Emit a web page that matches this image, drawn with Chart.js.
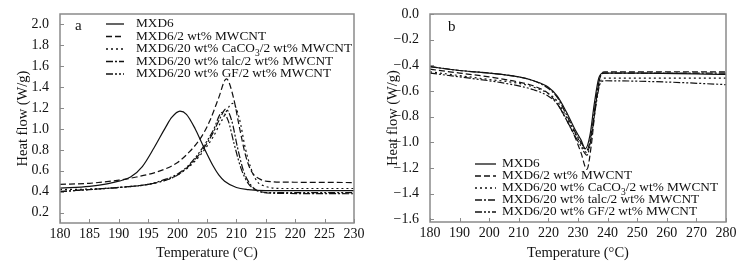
<!DOCTYPE html>
<html>
<head>
<meta charset="utf-8">
<script src="https://cdn.jsdelivr.net/npm/chart.js@4"></script>
<style>
  body { margin: 0; background: #fff; }
  .wrap { position: absolute; top: 0; height: 263px; }
</style>
</head>
<body>
<div class="wrap" style="left:0;width:370px"><canvas id="chartA"></canvas></div>
<div class="wrap" style="left:370px;width:371px"><canvas id="chartB"></canvas></div>
<script>
// Series names
const seriesNames = [
  "MXD6",
  "MXD6/2 wt% MWCNT",
  "MXD6/20 wt% CaCO3/2 wt% MWCNT",
  "MXD6/20 wt% talc/2 wt% MWCNT",
  "MXD6/20 wt% GF/2 wt% MWCNT"
];
const dashes = [[], [6, 3], [2, 3], [7, 2, 2, 2], [7, 2, 2, 2, 2, 2]];

// Panel a: crystallization (temperature, heat flow)
const a_t_mxd6 = [180, 185, 188, 190, 192, 194, 196, 198, 199, 200.4, 201.5, 203, 204, 205, 206, 207, 208, 210, 212, 215, 230];
const a_y_mxd6 = [0.434, 0.45, 0.475, 0.50, 0.54, 0.64, 0.82, 1.02, 1.11, 1.17, 1.14, 1.00, 0.88, 0.76, 0.65, 0.56, 0.50, 0.44, 0.42, 0.41, 0.41];
const a_t_mwcnt = [180, 185, 190, 193, 196, 198, 200, 202, 204, 205.5, 207, 208.3, 209.5, 210.5, 211.5, 212.5, 214, 216, 220, 230];
const a_y_mwcnt = [0.47, 0.48, 0.51, 0.54, 0.58, 0.62, 0.68, 0.78, 0.92, 1.08, 1.30, 1.48, 1.30, 1.02, 0.76, 0.60, 0.52, 0.495, 0.49, 0.487];
const a_t_caco3 = [180, 185, 190, 195, 198, 200, 202, 204, 206, 207.5, 209.4, 210.5, 211.5, 212.5, 213.5, 215, 218, 230];
const a_y_caco3 = [0.42, 0.425, 0.44, 0.47, 0.51, 0.56, 0.64, 0.76, 0.92, 1.08, 1.245, 1.10, 0.82, 0.62, 0.50, 0.45, 0.43, 0.43];
const a_t_talc = [180, 185, 190, 195, 198, 200, 202, 204, 206, 207.2, 208.2, 209.2, 210.2, 211.2, 212.5, 214, 216, 230];
const a_y_talc = [0.40, 0.42, 0.44, 0.47, 0.51, 0.56, 0.65, 0.78, 0.96, 1.10, 1.19, 1.08, 0.82, 0.60, 0.46, 0.40, 0.385, 0.38];
const a_t_gf = [180, 185, 190, 195, 198, 200, 202, 204, 206, 207.6, 208.6, 209.6, 210.8, 212, 213.5, 216, 230];
const a_y_gf = [0.40, 0.42, 0.44, 0.47, 0.52, 0.57, 0.66, 0.80, 0.98, 1.16, 1.08, 0.86, 0.62, 0.48, 0.41, 0.39, 0.39];

// Panel b: melting (temperature, heat flow)
const b_t_mxd6 = [180, 190, 200, 210, 215, 220, 223, 226, 229, 231, 232.5, 234, 235.5, 237, 238.5, 250, 280];
const b_y_mxd6 = [-0.41, -0.44, -0.46, -0.49, -0.52, -0.57, -0.64, -0.76, -0.90, -0.98, -1.05, -0.95, -0.70, -0.50, -0.46, -0.46, -0.47];
const b_t_mwcnt = [180, 190, 200, 210, 215, 220, 223, 226, 229, 231, 233, 234.5, 236, 237.5, 239, 280];
const b_y_mwcnt = [-0.43, -0.46, -0.49, -0.53, -0.56, -0.62, -0.70, -0.82, -0.96, -1.08, -1.21, -1.02, -0.70, -0.49, -0.45, -0.45];
const b_t_caco3 = [180, 190, 200, 210, 215, 220, 223, 226, 229, 231, 233, 234.5, 236, 237.5, 239, 280];
const b_y_caco3 = [-0.45, -0.48, -0.51, -0.54, -0.57, -0.62, -0.68, -0.80, -0.93, -1.01, -1.08, -0.95, -0.70, -0.53, -0.50, -0.50];
const b_t_talc = [180, 190, 200, 210, 215, 220, 223, 226, 229, 231, 233, 234.5, 236, 237.5, 239, 280];
const b_y_talc = [-0.41, -0.44, -0.46, -0.49, -0.52, -0.58, -0.65, -0.78, -0.92, -1.00, -1.06, -0.93, -0.68, -0.49, -0.46, -0.46];
const b_t_gf = [180, 190, 200, 210, 215, 220, 223, 226, 229, 231, 233, 234.5, 236, 237.5, 239, 260, 280];
const b_y_gf = [-0.46, -0.49, -0.52, -0.56, -0.59, -0.64, -0.70, -0.82, -0.95, -1.03, -1.10, -0.96, -0.72, -0.54, -0.52, -0.53, -0.55];

// Tick values
const a_xTicks = [180, 185, 190, 195, 200, 205, 210, 215, 220, 225, 230];
const a_yTicks = [0.2, 0.4, 0.6, 0.8, 1.0, 1.2, 1.4, 1.6, 1.8, 2.0];
const b_xTicks = [180, 190, 200, 210, 220, 230, 240, 250, 260, 270, 280];
const b_yTicks = [0.0, -0.2, -0.4, -0.6, -0.8, -1.0, -1.2, -1.4, -1.6];

const FONT = "'Liberation Serif', 'Times New Roman', serif";
const INK = "#111";
const FRAME = "#8a8a8a";

function pts(xs, ys) { return xs.map((x, i) => ({ x: x, y: ys[i] })); }

function makeSets(list) {
  return list.map((s, i) => ({
    label: seriesNames[i],
    data: pts(s[0], s[1]),
    borderColor: INK,
    borderWidth: 1.2,
    borderDash: dashes[i],
    pointRadius: 0,
    showLine: true,
    fill: false,
    cubicInterpolationMode: "monotone"
  }));
}

// frame, inward ticks, panel letter and hand drawn legend
const decor = {
  id: "decor",
  afterDraw(chart, args, o) {
    const ctx = chart.ctx, ca = chart.chartArea;
    const xs = chart.scales.x, ys = chart.scales.y;
    ctx.save();
    ctx.strokeStyle = FRAME;
    ctx.lineWidth = 1.5;
    ctx.strokeRect(ca.left, ca.top, ca.right - ca.left, ca.bottom - ca.top);
    ctx.lineWidth = 1;
    ctx.beginPath();
    xs.ticks.forEach(t => {
      const px = Math.round(xs.getPixelForValue(t.value)) + 0.5;
      ctx.moveTo(px, ca.bottom);
      ctx.lineTo(px, ca.bottom - 4);
    });
    ys.ticks.forEach(t => {
      const py = Math.round(ys.getPixelForValue(t.value)) + 0.5;
      ctx.moveTo(ca.left, py);
      ctx.lineTo(ca.left + 4, py);
    });
    ctx.stroke();
    ctx.fillStyle = INK;
    ctx.font = "15px " + FONT;
    ctx.textBaseline = "middle";
    ctx.fillText(o.letter, o.letterX, o.letterY);
    ctx.font = "13.3px " + FONT;
    seriesNames.forEach((name, i) => {
      const y = o.y0 + i * o.dy;
      ctx.strokeStyle = INK;
      ctx.lineWidth = 1.3;
      ctx.setLineDash(dashes[i]);
      ctx.beginPath();
      ctx.moveTo(o.l0, y);
      ctx.lineTo(o.l1, y);
      ctx.stroke();
      ctx.setLineDash([]);
      let x = o.tx;
      const parts = name.split("CaCO3");
      if (parts.length > 1) {
        ctx.fillText(parts[0] + "CaCO", x, y);
        x += ctx.measureText(parts[0] + "CaCO").width;
        ctx.font = "9.5px " + FONT;
        ctx.fillText("3", x, y + 4);
        x += ctx.measureText("3").width;
        ctx.font = "13.3px " + FONT;
        ctx.fillText(parts[1], x, y);
      } else {
        ctx.fillText(name, x, y);
      }
    });
    ctx.restore();
  }
};

function fmt(v) {
  const s = Math.abs(v).toFixed(1);
  return v < -1e-9 ? "\u2212" + s : s;
}

function makeChart(id, sets, xr, yr, xTicks, yTicks, pad, xH, deco) {
  return new Chart(document.getElementById(id), {
    type: "scatter",
    data: { datasets: makeSets(sets) },
    plugins: [decor],
    options: {
      responsive: true,
      maintainAspectRatio: false,
      animation: false,
      layout: { padding: pad },
      plugins: { legend: { display: false }, tooltip: { enabled: false }, decor: deco },
      scales: {
        x: {
          type: "linear", min: xr[0], max: xr[1],
          afterBuildTicks: s => { s.ticks = xTicks.map(v => ({ value: v })); },
          afterFit: s => { s.height = xH; },
          grid: { display: false },
          border: { display: false },
          ticks: { color: INK, font: { family: FONT, size: 14 }, padding: -5, maxRotation: 0, callback: v => String(v) },
          title: { display: true, text: "Temperature (°C)", color: INK, font: { family: FONT, size: 14.5 }, padding: { top: 0, bottom: 1 } }
        },
        y: {
          type: "linear", min: yr[0], max: yr[1],
          afterBuildTicks: s => { s.ticks = yTicks.map(v => ({ value: v })); },
          afterFit: s => { s.width = 60; },
          grid: { display: false },
          border: { display: false },
          ticks: { color: INK, font: { family: FONT, size: 14 }, padding: 3, callback: v => fmt(v) },
          title: { display: true, text: "Heat flow (W/g)", color: INK, font: { family: FONT, size: 14.5 }, padding: { top: 14, bottom: 0 } }
        }
      }
    }
  });
}

makeChart("chartA",
  [[a_t_mxd6, a_y_mxd6], [a_t_mwcnt, a_y_mwcnt], [a_t_caco3, a_y_caco3], [a_t_talc, a_y_talc], [a_t_gf, a_y_gf]],
  [180, 230], [0.1, 2.1], a_xTicks, a_yTicks,
  { top: 14, right: 16, left: 0, bottom: 0 }, 40,
  { letter: "a", letterX: 75, letterY: 26, y0: 24, dy: 12.5, l0: 106, l1: 124, tx: 136 });

makeChart("chartB",
  [[b_t_mxd6, b_y_mxd6], [b_t_mwcnt, b_y_mwcnt], [b_t_caco3, b_y_caco3], [b_t_talc, b_y_talc], [b_t_gf, b_y_gf]],
  [180, 280], [-1.62, 0.0], b_xTicks, b_yTicks,
  { top: 14, right: 15, left: 0, bottom: 0 }, 41,
  { letter: "b", letterX: 78, letterY: 27, y0: 164, dy: 12, l0: 105, l1: 126, tx: 132 });
</script>
</body>
</html>
